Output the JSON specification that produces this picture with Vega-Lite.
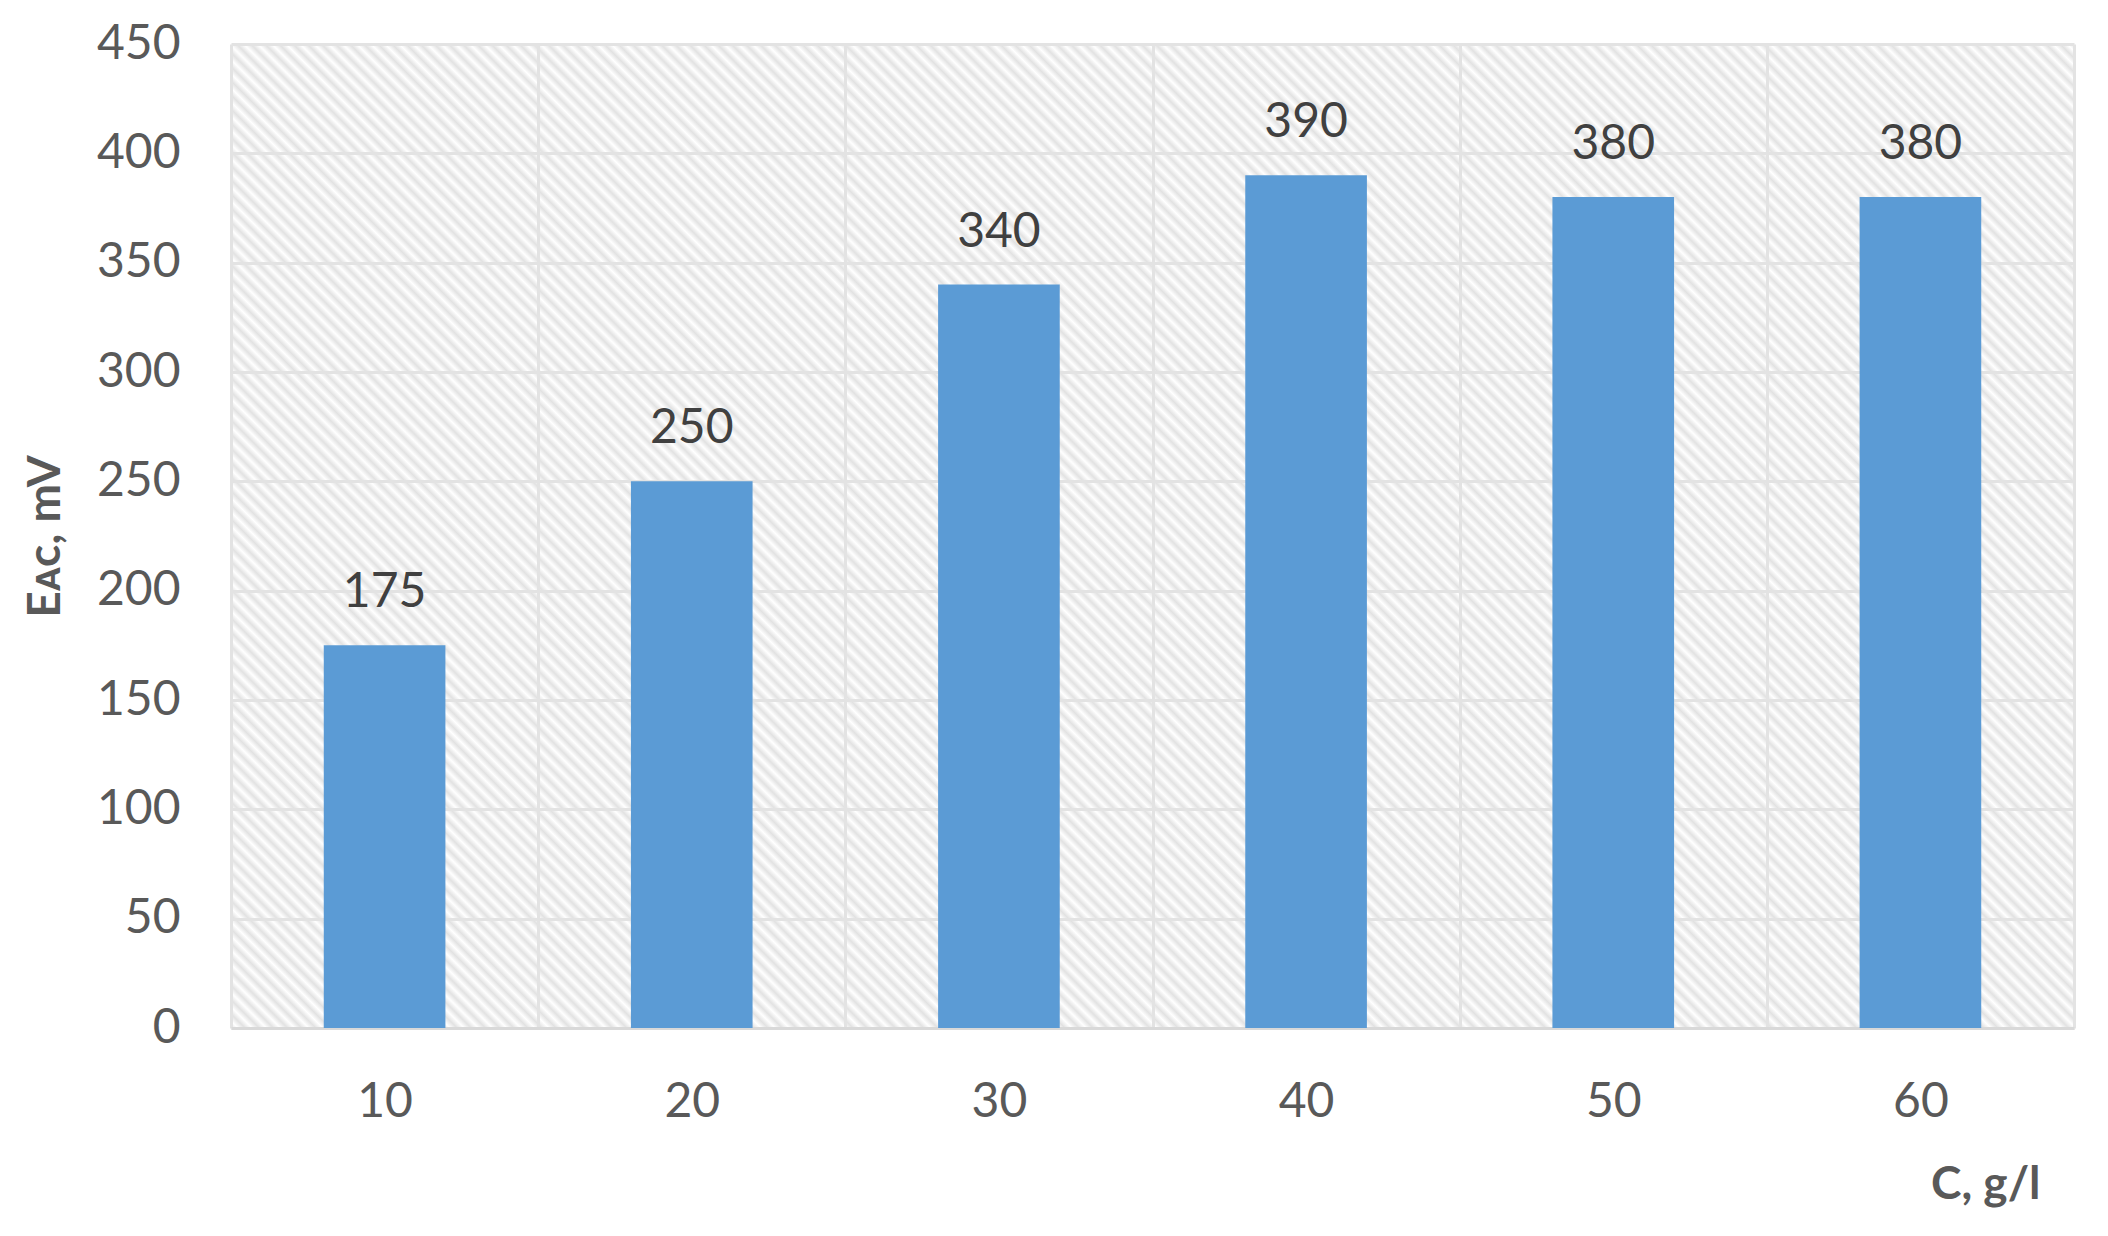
{
"$schema": "https://vega.github.io/schema/vega-lite/v6.json",
"width": 1843,
"height": 984,
"autosize": {"type": "none"},
"padding": {"left": 231, "top": 44, "right": 34, "bottom": 208},
"background": "#ffffff",
"data": {"values": [
{"C": "10", "E": 175},
{"C": "20", "E": 250},
{"C": "30", "E": 340},
{"C": "40", "E": 390},
{"C": "50", "E": 380},
{"C": "60", "E": 380}
]},
"encoding": {
"x": {"field": "C", "type": "ordinal", "sort": null,
"scale": {"paddingInner": 0, "paddingOuter": 0},
"axis": {"title": "C, g/l", "titleFont": "Lato", "titleFontSize": 46, "titleFontWeight": "bold", "titleColor": "#595959", "titleX": 1809, "titleY": 170, "titleAlign": "right", "titleBaseline": "alphabetic", "titleAnchor": null,
"labelAngle": 0, "labelFont": "Lato", "labelFontSize": 48, "labelColor": "#595959", "labelPadding": 50,
"ticks": false, "tickBand": "extent", "grid": true, "gridColor": "#e3e3e3", "gridWidth": 3,
"domain": true, "domainColor": "#d9d9d9", "domainWidth": 3}},
"y": {"field": "E", "type": "quantitative",
"scale": {"domain": [0, 450], "nice": false, "zero": true},
"axis": {"title": "Eᴀᴄ, mV", "values": [0, 50, 100, 150, 200, 250, 300, 350, 400, 450],
"grid": true, "gridColor": "#e3e3e3", "gridWidth": 3, "domain": false, "ticks": false,
"labelFont": "Lato", "labelFontSize": 48, "labelColor": "#595959", "labelPadding": 51, "labelBaseline": "middle",
"titleFont": "Lato", "titleFontSize": 46, "titleFontWeight": "bold", "titleColor": "#595959",
"titleX": -186, "titleY": 492, "titleAngle": 270, "titleAlign": "center", "titleBaseline": "middle", "titleAnchor": null}}
},
"layer": [
{"mark": {"type": "bar", "color": "#5b9bd5", "width": {"band": 0.396}}},
{"mark": {"type": "text", "baseline": "alphabetic", "align": "center", "dy": -38, "fontSize": 48, "font": "Lato", "color": "#404040"},
"encoding": {"text": {"field": "E", "type": "quantitative"}}}
],
"config": {
"view": {"stroke": null, "fill": {"gradient": "linear", "x1": 0, "y1": 1, "x2": 1.1937, "y2": 0.3627, "stops": [
{"offset":0.0000,"color":"#e2e2e2"},{"offset":0.0025,"color":"#fff"},{"offset":0.0050,"color":"#e2e2e2"},{"offset":0.0075,"color":"#fff"},
{"offset":0.0100,"color":"#e2e2e2"},{"offset":0.0125,"color":"#fff"},{"offset":0.0150,"color":"#e2e2e2"},{"offset":0.0175,"color":"#fff"},
{"offset":0.0200,"color":"#e2e2e2"},{"offset":0.0225,"color":"#fff"},{"offset":0.0250,"color":"#e2e2e2"},{"offset":0.0275,"color":"#fff"},
{"offset":0.0300,"color":"#e2e2e2"},{"offset":0.0325,"color":"#fff"},{"offset":0.0350,"color":"#e2e2e2"},{"offset":0.0375,"color":"#fff"},
{"offset":0.0400,"color":"#e2e2e2"},{"offset":0.0425,"color":"#fff"},{"offset":0.0450,"color":"#e2e2e2"},{"offset":0.0475,"color":"#fff"},
{"offset":0.0500,"color":"#e2e2e2"},{"offset":0.0525,"color":"#fff"},{"offset":0.0550,"color":"#e2e2e2"},{"offset":0.0575,"color":"#fff"},
{"offset":0.0600,"color":"#e2e2e2"},{"offset":0.0625,"color":"#fff"},{"offset":0.0650,"color":"#e2e2e2"},{"offset":0.0675,"color":"#fff"},
{"offset":0.0700,"color":"#e2e2e2"},{"offset":0.0725,"color":"#fff"},{"offset":0.0750,"color":"#e2e2e2"},{"offset":0.0775,"color":"#fff"},
{"offset":0.0800,"color":"#e2e2e2"},{"offset":0.0825,"color":"#fff"},{"offset":0.0850,"color":"#e2e2e2"},{"offset":0.0875,"color":"#fff"},
{"offset":0.0900,"color":"#e2e2e2"},{"offset":0.0925,"color":"#fff"},{"offset":0.0950,"color":"#e2e2e2"},{"offset":0.0975,"color":"#fff"},
{"offset":0.1000,"color":"#e2e2e2"},{"offset":0.1025,"color":"#fff"},{"offset":0.1050,"color":"#e2e2e2"},{"offset":0.1075,"color":"#fff"},
{"offset":0.1100,"color":"#e2e2e2"},{"offset":0.1125,"color":"#fff"},{"offset":0.1150,"color":"#e2e2e2"},{"offset":0.1175,"color":"#fff"},
{"offset":0.1200,"color":"#e2e2e2"},{"offset":0.1225,"color":"#fff"},{"offset":0.1250,"color":"#e2e2e2"},{"offset":0.1275,"color":"#fff"},
{"offset":0.1300,"color":"#e2e2e2"},{"offset":0.1325,"color":"#fff"},{"offset":0.1350,"color":"#e2e2e2"},{"offset":0.1375,"color":"#fff"},
{"offset":0.1400,"color":"#e2e2e2"},{"offset":0.1425,"color":"#fff"},{"offset":0.1450,"color":"#e2e2e2"},{"offset":0.1475,"color":"#fff"},
{"offset":0.1500,"color":"#e2e2e2"},{"offset":0.1525,"color":"#fff"},{"offset":0.1550,"color":"#e2e2e2"},{"offset":0.1575,"color":"#fff"},
{"offset":0.1600,"color":"#e2e2e2"},{"offset":0.1625,"color":"#fff"},{"offset":0.1650,"color":"#e2e2e2"},{"offset":0.1675,"color":"#fff"},
{"offset":0.1700,"color":"#e2e2e2"},{"offset":0.1725,"color":"#fff"},{"offset":0.1750,"color":"#e2e2e2"},{"offset":0.1775,"color":"#fff"},
{"offset":0.1800,"color":"#e2e2e2"},{"offset":0.1825,"color":"#fff"},{"offset":0.1850,"color":"#e2e2e2"},{"offset":0.1875,"color":"#fff"},
{"offset":0.1900,"color":"#e2e2e2"},{"offset":0.1925,"color":"#fff"},{"offset":0.1950,"color":"#e2e2e2"},{"offset":0.1975,"color":"#fff"},
{"offset":0.2000,"color":"#e2e2e2"},{"offset":0.2025,"color":"#fff"},{"offset":0.2050,"color":"#e2e2e2"},{"offset":0.2075,"color":"#fff"},
{"offset":0.2100,"color":"#e2e2e2"},{"offset":0.2125,"color":"#fff"},{"offset":0.2150,"color":"#e2e2e2"},{"offset":0.2175,"color":"#fff"},
{"offset":0.2200,"color":"#e2e2e2"},{"offset":0.2225,"color":"#fff"},{"offset":0.2250,"color":"#e2e2e2"},{"offset":0.2275,"color":"#fff"},
{"offset":0.2300,"color":"#e2e2e2"},{"offset":0.2325,"color":"#fff"},{"offset":0.2350,"color":"#e2e2e2"},{"offset":0.2375,"color":"#fff"},
{"offset":0.2400,"color":"#e2e2e2"},{"offset":0.2425,"color":"#fff"},{"offset":0.2450,"color":"#e2e2e2"},{"offset":0.2475,"color":"#fff"},
{"offset":0.2500,"color":"#e2e2e2"},{"offset":0.2525,"color":"#fff"},{"offset":0.2550,"color":"#e2e2e2"},{"offset":0.2575,"color":"#fff"},
{"offset":0.2600,"color":"#e2e2e2"},{"offset":0.2625,"color":"#fff"},{"offset":0.2650,"color":"#e2e2e2"},{"offset":0.2675,"color":"#fff"},
{"offset":0.2700,"color":"#e2e2e2"},{"offset":0.2725,"color":"#fff"},{"offset":0.2750,"color":"#e2e2e2"},{"offset":0.2775,"color":"#fff"},
{"offset":0.2800,"color":"#e2e2e2"},{"offset":0.2825,"color":"#fff"},{"offset":0.2850,"color":"#e2e2e2"},{"offset":0.2875,"color":"#fff"},
{"offset":0.2900,"color":"#e2e2e2"},{"offset":0.2925,"color":"#fff"},{"offset":0.2950,"color":"#e2e2e2"},{"offset":0.2975,"color":"#fff"},
{"offset":0.3000,"color":"#e2e2e2"},{"offset":0.3025,"color":"#fff"},{"offset":0.3050,"color":"#e2e2e2"},{"offset":0.3075,"color":"#fff"},
{"offset":0.3100,"color":"#e2e2e2"},{"offset":0.3125,"color":"#fff"},{"offset":0.3150,"color":"#e2e2e2"},{"offset":0.3175,"color":"#fff"},
{"offset":0.3200,"color":"#e2e2e2"},{"offset":0.3225,"color":"#fff"},{"offset":0.3250,"color":"#e2e2e2"},{"offset":0.3275,"color":"#fff"},
{"offset":0.3300,"color":"#e2e2e2"},{"offset":0.3325,"color":"#fff"},{"offset":0.3350,"color":"#e2e2e2"},{"offset":0.3375,"color":"#fff"},
{"offset":0.3400,"color":"#e2e2e2"},{"offset":0.3425,"color":"#fff"},{"offset":0.3450,"color":"#e2e2e2"},{"offset":0.3475,"color":"#fff"},
{"offset":0.3500,"color":"#e2e2e2"},{"offset":0.3525,"color":"#fff"},{"offset":0.3550,"color":"#e2e2e2"},{"offset":0.3575,"color":"#fff"},
{"offset":0.3600,"color":"#e2e2e2"},{"offset":0.3625,"color":"#fff"},{"offset":0.3650,"color":"#e2e2e2"},{"offset":0.3675,"color":"#fff"},
{"offset":0.3700,"color":"#e2e2e2"},{"offset":0.3725,"color":"#fff"},{"offset":0.3750,"color":"#e2e2e2"},{"offset":0.3775,"color":"#fff"},
{"offset":0.3800,"color":"#e2e2e2"},{"offset":0.3825,"color":"#fff"},{"offset":0.3850,"color":"#e2e2e2"},{"offset":0.3875,"color":"#fff"},
{"offset":0.3900,"color":"#e2e2e2"},{"offset":0.3925,"color":"#fff"},{"offset":0.3950,"color":"#e2e2e2"},{"offset":0.3975,"color":"#fff"},
{"offset":0.4000,"color":"#e2e2e2"},{"offset":0.4025,"color":"#fff"},{"offset":0.4050,"color":"#e2e2e2"},{"offset":0.4075,"color":"#fff"},
{"offset":0.4100,"color":"#e2e2e2"},{"offset":0.4125,"color":"#fff"},{"offset":0.4150,"color":"#e2e2e2"},{"offset":0.4175,"color":"#fff"},
{"offset":0.4200,"color":"#e2e2e2"},{"offset":0.4225,"color":"#fff"},{"offset":0.4250,"color":"#e2e2e2"},{"offset":0.4275,"color":"#fff"},
{"offset":0.4300,"color":"#e2e2e2"},{"offset":0.4325,"color":"#fff"},{"offset":0.4350,"color":"#e2e2e2"},{"offset":0.4375,"color":"#fff"},
{"offset":0.4400,"color":"#e2e2e2"},{"offset":0.4425,"color":"#fff"},{"offset":0.4450,"color":"#e2e2e2"},{"offset":0.4475,"color":"#fff"},
{"offset":0.4500,"color":"#e2e2e2"},{"offset":0.4525,"color":"#fff"},{"offset":0.4550,"color":"#e2e2e2"},{"offset":0.4575,"color":"#fff"},
{"offset":0.4600,"color":"#e2e2e2"},{"offset":0.4625,"color":"#fff"},{"offset":0.4650,"color":"#e2e2e2"},{"offset":0.4675,"color":"#fff"},
{"offset":0.4700,"color":"#e2e2e2"},{"offset":0.4725,"color":"#fff"},{"offset":0.4750,"color":"#e2e2e2"},{"offset":0.4775,"color":"#fff"},
{"offset":0.4800,"color":"#e2e2e2"},{"offset":0.4825,"color":"#fff"},{"offset":0.4850,"color":"#e2e2e2"},{"offset":0.4875,"color":"#fff"},
{"offset":0.4900,"color":"#e2e2e2"},{"offset":0.4925,"color":"#fff"},{"offset":0.4950,"color":"#e2e2e2"},{"offset":0.4975,"color":"#fff"},
{"offset":0.5000,"color":"#e2e2e2"},{"offset":0.5025,"color":"#fff"},{"offset":0.5050,"color":"#e2e2e2"},{"offset":0.5075,"color":"#fff"},
{"offset":0.5100,"color":"#e2e2e2"},{"offset":0.5125,"color":"#fff"},{"offset":0.5150,"color":"#e2e2e2"},{"offset":0.5175,"color":"#fff"},
{"offset":0.5200,"color":"#e2e2e2"},{"offset":0.5225,"color":"#fff"},{"offset":0.5250,"color":"#e2e2e2"},{"offset":0.5275,"color":"#fff"},
{"offset":0.5300,"color":"#e2e2e2"},{"offset":0.5325,"color":"#fff"},{"offset":0.5350,"color":"#e2e2e2"},{"offset":0.5375,"color":"#fff"},
{"offset":0.5400,"color":"#e2e2e2"},{"offset":0.5425,"color":"#fff"},{"offset":0.5450,"color":"#e2e2e2"},{"offset":0.5475,"color":"#fff"},
{"offset":0.5500,"color":"#e2e2e2"},{"offset":0.5525,"color":"#fff"},{"offset":0.5550,"color":"#e2e2e2"},{"offset":0.5575,"color":"#fff"},
{"offset":0.5600,"color":"#e2e2e2"},{"offset":0.5625,"color":"#fff"},{"offset":0.5650,"color":"#e2e2e2"},{"offset":0.5675,"color":"#fff"},
{"offset":0.5700,"color":"#e2e2e2"},{"offset":0.5725,"color":"#fff"},{"offset":0.5750,"color":"#e2e2e2"},{"offset":0.5775,"color":"#fff"},
{"offset":0.5800,"color":"#e2e2e2"},{"offset":0.5825,"color":"#fff"},{"offset":0.5850,"color":"#e2e2e2"},{"offset":0.5875,"color":"#fff"},
{"offset":0.5900,"color":"#e2e2e2"},{"offset":0.5925,"color":"#fff"},{"offset":0.5950,"color":"#e2e2e2"},{"offset":0.5975,"color":"#fff"},
{"offset":0.6000,"color":"#e2e2e2"},{"offset":0.6025,"color":"#fff"},{"offset":0.6050,"color":"#e2e2e2"},{"offset":0.6075,"color":"#fff"},
{"offset":0.6100,"color":"#e2e2e2"},{"offset":0.6125,"color":"#fff"},{"offset":0.6150,"color":"#e2e2e2"},{"offset":0.6175,"color":"#fff"},
{"offset":0.6200,"color":"#e2e2e2"},{"offset":0.6225,"color":"#fff"},{"offset":0.6250,"color":"#e2e2e2"},{"offset":0.6275,"color":"#fff"},
{"offset":0.6300,"color":"#e2e2e2"},{"offset":0.6325,"color":"#fff"},{"offset":0.6350,"color":"#e2e2e2"},{"offset":0.6375,"color":"#fff"},
{"offset":0.6400,"color":"#e2e2e2"},{"offset":0.6425,"color":"#fff"},{"offset":0.6450,"color":"#e2e2e2"},{"offset":0.6475,"color":"#fff"},
{"offset":0.6500,"color":"#e2e2e2"},{"offset":0.6525,"color":"#fff"},{"offset":0.6550,"color":"#e2e2e2"},{"offset":0.6575,"color":"#fff"},
{"offset":0.6600,"color":"#e2e2e2"},{"offset":0.6625,"color":"#fff"},{"offset":0.6650,"color":"#e2e2e2"},{"offset":0.6675,"color":"#fff"},
{"offset":0.6700,"color":"#e2e2e2"},{"offset":0.6725,"color":"#fff"},{"offset":0.6750,"color":"#e2e2e2"},{"offset":0.6775,"color":"#fff"},
{"offset":0.6800,"color":"#e2e2e2"},{"offset":0.6825,"color":"#fff"},{"offset":0.6850,"color":"#e2e2e2"},{"offset":0.6875,"color":"#fff"},
{"offset":0.6900,"color":"#e2e2e2"},{"offset":0.6925,"color":"#fff"},{"offset":0.6950,"color":"#e2e2e2"},{"offset":0.6975,"color":"#fff"},
{"offset":0.7000,"color":"#e2e2e2"},{"offset":0.7025,"color":"#fff"},{"offset":0.7050,"color":"#e2e2e2"},{"offset":0.7075,"color":"#fff"},
{"offset":0.7100,"color":"#e2e2e2"},{"offset":0.7125,"color":"#fff"},{"offset":0.7150,"color":"#e2e2e2"},{"offset":0.7175,"color":"#fff"},
{"offset":0.7200,"color":"#e2e2e2"},{"offset":0.7225,"color":"#fff"},{"offset":0.7250,"color":"#e2e2e2"},{"offset":0.7275,"color":"#fff"},
{"offset":0.7300,"color":"#e2e2e2"},{"offset":0.7325,"color":"#fff"},{"offset":0.7350,"color":"#e2e2e2"},{"offset":0.7375,"color":"#fff"},
{"offset":0.7400,"color":"#e2e2e2"},{"offset":0.7425,"color":"#fff"},{"offset":0.7450,"color":"#e2e2e2"},{"offset":0.7475,"color":"#fff"},
{"offset":0.7500,"color":"#e2e2e2"},{"offset":0.7525,"color":"#fff"},{"offset":0.7550,"color":"#e2e2e2"},{"offset":0.7575,"color":"#fff"},
{"offset":0.7600,"color":"#e2e2e2"},{"offset":0.7625,"color":"#fff"},{"offset":0.7650,"color":"#e2e2e2"},{"offset":0.7675,"color":"#fff"},
{"offset":0.7700,"color":"#e2e2e2"},{"offset":0.7725,"color":"#fff"},{"offset":0.7750,"color":"#e2e2e2"},{"offset":0.7775,"color":"#fff"},
{"offset":0.7800,"color":"#e2e2e2"},{"offset":0.7825,"color":"#fff"},{"offset":0.7850,"color":"#e2e2e2"},{"offset":0.7875,"color":"#fff"},
{"offset":0.7900,"color":"#e2e2e2"},{"offset":0.7925,"color":"#fff"},{"offset":0.7950,"color":"#e2e2e2"},{"offset":0.7975,"color":"#fff"},
{"offset":0.8000,"color":"#e2e2e2"},{"offset":0.8025,"color":"#fff"},{"offset":0.8050,"color":"#e2e2e2"},{"offset":0.8075,"color":"#fff"},
{"offset":0.8100,"color":"#e2e2e2"},{"offset":0.8125,"color":"#fff"},{"offset":0.8150,"color":"#e2e2e2"},{"offset":0.8175,"color":"#fff"},
{"offset":0.8200,"color":"#e2e2e2"},{"offset":0.8225,"color":"#fff"},{"offset":0.8250,"color":"#e2e2e2"},{"offset":0.8275,"color":"#fff"},
{"offset":0.8300,"color":"#e2e2e2"},{"offset":0.8325,"color":"#fff"},{"offset":0.8350,"color":"#e2e2e2"},{"offset":0.8375,"color":"#fff"},
{"offset":0.8400,"color":"#e2e2e2"},{"offset":0.8425,"color":"#fff"},{"offset":0.8450,"color":"#e2e2e2"},{"offset":0.8475,"color":"#fff"},
{"offset":0.8500,"color":"#e2e2e2"},{"offset":0.8525,"color":"#fff"},{"offset":0.8550,"color":"#e2e2e2"},{"offset":0.8575,"color":"#fff"},
{"offset":0.8600,"color":"#e2e2e2"},{"offset":0.8625,"color":"#fff"},{"offset":0.8650,"color":"#e2e2e2"},{"offset":0.8675,"color":"#fff"},
{"offset":0.8700,"color":"#e2e2e2"},{"offset":0.8725,"color":"#fff"},{"offset":0.8750,"color":"#e2e2e2"},{"offset":0.8775,"color":"#fff"},
{"offset":0.8800,"color":"#e2e2e2"},{"offset":0.8825,"color":"#fff"},{"offset":0.8850,"color":"#e2e2e2"},{"offset":0.8875,"color":"#fff"},
{"offset":0.8900,"color":"#e2e2e2"},{"offset":0.8925,"color":"#fff"},{"offset":0.8950,"color":"#e2e2e2"},{"offset":0.8975,"color":"#fff"},
{"offset":0.9000,"color":"#e2e2e2"},{"offset":0.9025,"color":"#fff"},{"offset":0.9050,"color":"#e2e2e2"},{"offset":0.9075,"color":"#fff"},
{"offset":0.9100,"color":"#e2e2e2"},{"offset":0.9125,"color":"#fff"},{"offset":0.9150,"color":"#e2e2e2"},{"offset":0.9175,"color":"#fff"},
{"offset":0.9200,"color":"#e2e2e2"},{"offset":0.9225,"color":"#fff"},{"offset":0.9250,"color":"#e2e2e2"},{"offset":0.9275,"color":"#fff"},
{"offset":0.9300,"color":"#e2e2e2"},{"offset":0.9325,"color":"#fff"},{"offset":0.9350,"color":"#e2e2e2"},{"offset":0.9375,"color":"#fff"},
{"offset":0.9400,"color":"#e2e2e2"},{"offset":0.9425,"color":"#fff"},{"offset":0.9450,"color":"#e2e2e2"},{"offset":0.9475,"color":"#fff"},
{"offset":0.9500,"color":"#e2e2e2"},{"offset":0.9525,"color":"#fff"},{"offset":0.9550,"color":"#e2e2e2"},{"offset":0.9575,"color":"#fff"},
{"offset":0.9600,"color":"#e2e2e2"},{"offset":0.9625,"color":"#fff"},{"offset":0.9650,"color":"#e2e2e2"},{"offset":0.9675,"color":"#fff"},
{"offset":0.9700,"color":"#e2e2e2"},{"offset":0.9725,"color":"#fff"},{"offset":0.9750,"color":"#e2e2e2"},{"offset":0.9775,"color":"#fff"},
{"offset":0.9800,"color":"#e2e2e2"},{"offset":0.9825,"color":"#fff"},{"offset":0.9850,"color":"#e2e2e2"},{"offset":0.9875,"color":"#fff"},
{"offset":0.9900,"color":"#e2e2e2"},{"offset":0.9925,"color":"#fff"},{"offset":0.9950,"color":"#e2e2e2"},{"offset":0.9975,"color":"#fff"},
{"offset":1.0000,"color":"#e2e2e2"}
]}}
}
}
